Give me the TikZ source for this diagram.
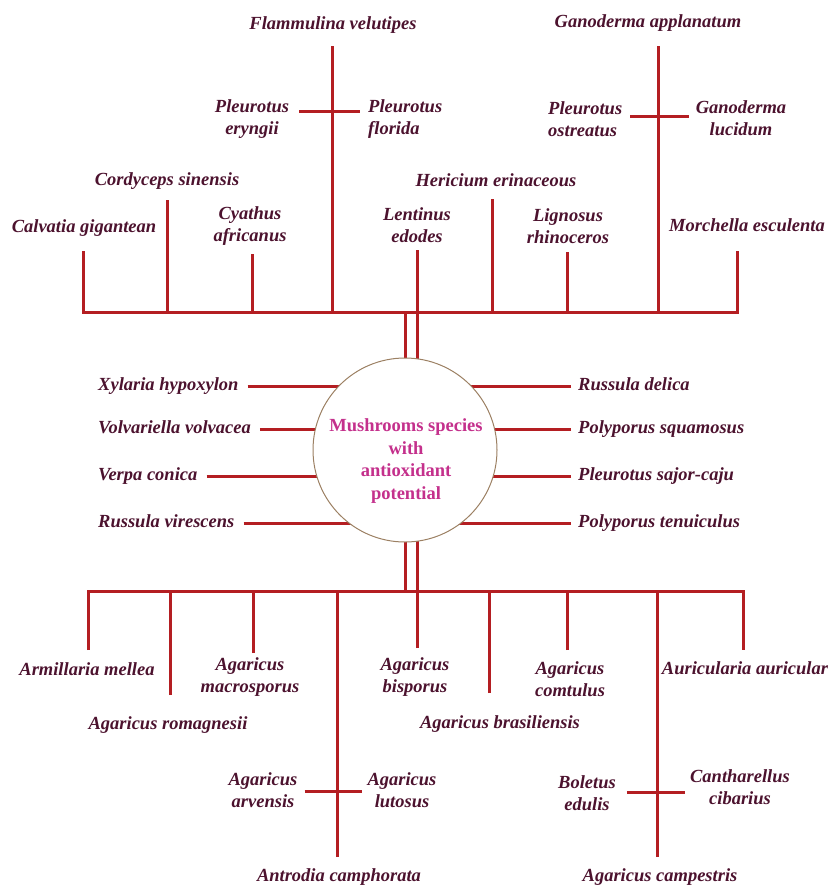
\documentclass[tikz,border=0pt]{standalone}
\usepackage{fontspec}
\setmainfont{Liberation Serif}
\usepackage{tikz}
\usepackage{xcolor}
\definecolor{rouge}{RGB}{180,30,34}
\definecolor{prune}{RGB}{76,18,46}
\definecolor{rose}{RGB}{196,48,140}
\tikzset{
Tige/.style={
 draw=rouge, 
 line width=3pt
 },
Espece/.style={
 text=prune, 
 font=\fontsize{18.5}{22}\selectfont\bfseries\itshape, 
 align=center, 
 inner sep=0pt
 },
EspeceG/.style={
 Espece, 
 align=left, 
 anchor=west
 },
Ligne/.style={
 Espece, 
 anchor=west, 
 text height=13pt, 
 text depth=4pt
 },
Coeur/.style={
 circle, 
 draw=gray!55!brown, 
 line width=1pt, 
 fill=white, 
 minimum size=184pt, 
 inner sep=0pt
 },
Titre/.style={
 text=rose, 
 font=\fontsize{18.5}{22.5}\selectfont\bfseries, 
 align=center, 
 inner sep=0pt
 }
}

\begin{document}
\begin{tikzpicture}[x=1pt,y=-1pt]
\useasboundingbox (0,0) rectangle (832,886);
% points de base
\coordinate (c) at (405,450);
\coordinate (c2) at (417,450);
\coordinate (hg) at (83,312);
\coordinate (hd) at (737,312);
\coordinate (bg) at (88,591);
\coordinate (bd) at (743,591);

% especes du haut
\node[Espece] (flam) at (333,25) {Flammulina velutipes};
\node[Espece] (gapp) at (648,23) {Ganoderma applanatum};
\node[Espece] (eryn) at (252,119) {Pleurotus\\eryngii};
\node[EspeceG] (flor) at (368,119) {Pleurotus\\florida};
\node[EspeceG] (ostr) at (548,119) {Pleurotus\\ostreatus};
\node[Espece] (gluc) at (741,118) {Ganoderma\\lucidum};
\node[Espece] (cord) at (167,181) {Cordyceps sinensis};
\node[Espece] (calv) at (84,228) {Calvatia gigantean};
\node[Espece] (cyat) at (250,226) {Cyathus\\africanus};
\node[Espece] (lent) at (417,225) {Lentinus\\edodes};
\node[Espece] (heri) at (496,180) {Hericium erinaceous};
\node[Espece] (lign) at (568,226) {Lignosus\\rhinoceros};
\node[Espece] (morc) at (747,225) {Morchella esculenta};

% especes du milieu
\node[Ligne] (xyla) at (98,386) {Xylaria hypoxylon};
\node[Ligne] (volv) at (98,429) {Volvariella volvacea};
\node[Ligne] (verp) at (98,476) {Verpa conica};
\node[Ligne] (rvir) at (98,523) {Russula virescens};
\node[Ligne] (rdel) at (578,386) {Russula delica};
\node[Ligne] (psqu) at (578,429) {Polyporus squamosus};
\node[Ligne] (psaj) at (578,476) {Pleurotus sajor-caju};
\node[Ligne] (pten) at (578,523) {Polyporus tenuiculus};

% especes du bas
\node[Espece] (arme) at (87,669) {Armillaria mellea};
\node[Espece] (arom) at (168,725) {Agaricus romagnesii};
\node[Espece] (amac) at (250,677) {Agaricus\\macrosporus};
\node[Espece] (abis) at (415,677) {Agaricus\\bisporus};
\node[Espece] (abra) at (500,724) {Agaricus brasiliensis};
\node[Espece] (acom) at (570,679) {Agaricus\\comtulus};
\node[Espece] (aaur) at (745,668) {Auricularia auricular};
\node[Espece] (aarv) at (263,790) {Agaricus\\arvensis};
\node[Espece] (alut) at (402,790) {Agaricus\\lutosus};
\node[Espece] (bole) at (587,793) {Boletus\\edulis};
\node[Espece] (cant) at (740,787) {Cantharellus\\cibarius};
\node[Espece] (antr) at (339,877) {Antrodia camphorata};
\node[Espece] (acam) at (660,877) {Agaricus campestris};

% tiges du haut
\coordinate (h1) at (83,251);
\coordinate (h2) at (167,200);
\coordinate (h3) at (252,254);
\coordinate (h4) at (332,46);
\coordinate (h5) at (417,250);
\coordinate (h6) at (492,199);
\coordinate (h7) at (567,252);
\coordinate (h8) at (658,46);
\coordinate (h9) at (737,251);
\draw[Tige] (h1) -- (hg) -- (hd) -- (h9);
\foreach \i in {2,...,8}
 \draw[Tige] (h\i) -- (h\i |- hg);
\draw[Tige, shorten <=10pt, shorten >=8pt] (eryn.east |- 0,111) -- (flor.west |- 0,111);
\draw[Tige, shorten <=8pt, shorten >=7pt] (ostr.east |- 0,116) -- (gluc.west |- 0,116);

% tiges du bas
\coordinate (b1) at (88,650);
\coordinate (b2) at (170,695);
\coordinate (b3) at (253,653);
\coordinate (b4) at (337,857);
\coordinate (b5) at (417,648);
\coordinate (b6) at (489,693);
\coordinate (b7) at (567,650);
\coordinate (b8) at (657,857);
\coordinate (b9) at (743,650);
\draw[Tige] (b1) -- (bg) -- (bd) -- (b9);
\foreach \i in {2,...,8}
 \draw[Tige] (b\i) -- (b\i |- bg);
\draw[Tige, shorten <=7pt, shorten >=5pt] (aarv.east |- 0,791) -- (alut.west |- 0,791);
\draw[Tige, shorten <=11pt, shorten >=5pt] (bole.east |- 0,792) -- (cant.west |- 0,792);

% liens vers le cercle
\draw[Tige] (c) -- (c |- hg);
\draw[Tige] (c2) -- (c2 |- hg);
\draw[Tige] (c) -- (c |- bg);
\draw[Tige] (c2) -- (c2 |- bg);
\foreach \n in {xyla,volv,verp,rvir}
 \draw[Tige, shorten <=9pt] (\n.east) -- (\n.east -| c);
\foreach \n in {rdel,psqu,psaj,pten}
 \draw[Tige, shorten <=7pt] (\n.west) -- (\n.west -| c);

% cercle
\node[Coeur] (coeur) at (c) {};
\node[Titre] (titre) at (406,461) {Mushrooms species\\with\\antioxidant\\potential};
\end{tikzpicture}
\end{document}
